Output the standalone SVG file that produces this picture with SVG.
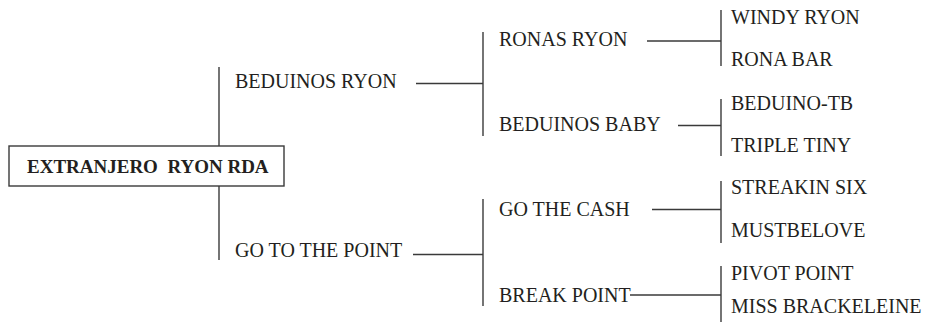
<svg xmlns="http://www.w3.org/2000/svg" width="934" height="322" viewBox="0 0 934 322">
<style>
.t{font-family:"Liberation Serif","Times New Roman",serif;font-size:20px;fill:#231f20}
.b{font-weight:bold;font-size:19px;white-space:pre}
.c line{stroke:#3a3a3a;stroke-width:1.4}
.box{fill:#fff;stroke:#3a3a3a;stroke-width:1.4}
</style>
<rect width="934" height="322" fill="#fff"/>
<g class="c" id="connectors">
<line x1="219" y1="67" x2="219" y2="146"/>
<line x1="219" y1="186" x2="219" y2="260"/>
<line x1="416" y1="83.5" x2="483" y2="83.5"/>
<line x1="483" y1="32" x2="483" y2="136"/>
<line x1="647" y1="41" x2="721" y2="41"/>
<line x1="721" y1="10" x2="721" y2="66"/>
<line x1="678" y1="125.5" x2="721" y2="125.5"/>
<line x1="721" y1="99" x2="721" y2="156"/>
<line x1="413" y1="254.5" x2="483" y2="254.5"/>
<line x1="483" y1="199" x2="483" y2="306"/>
<line x1="652" y1="209.5" x2="721" y2="209.5"/>
<line x1="721" y1="181" x2="721" y2="243"/>
<line x1="630" y1="295" x2="721" y2="295"/>
<line x1="721" y1="266" x2="721" y2="322"/>
</g>
<g id="root"><rect class="box" x="9" y="146" width="275" height="40"/><text class="t b" x="27" y="173" xml:space="preserve">EXTRANJERO  RYON RDA</text></g>
<g id="n1"><text class="t" x="235" y="88">BEDUINOS RYON</text></g>
<g id="n2"><text class="t" x="235" y="257">GO TO THE POINT</text></g>
<g id="n11"><text class="t" x="499" y="46">RONAS RYON</text></g>
<g id="n12"><text class="t" x="499" y="131">BEDUINOS BABY</text></g>
<g id="n21"><text class="t" x="499" y="216">GO THE CASH</text></g>
<g id="n22"><text class="t" x="499" y="302">BREAK POINT</text></g>
<g id="n111"><text class="t" x="731" y="24">WINDY RYON</text></g>
<g id="n112"><text class="t" x="731" y="66">RONA BAR</text></g>
<g id="n121"><text class="t" x="731" y="110">BEDUINO-TB</text></g>
<g id="n122"><text class="t" x="731" y="152">TRIPLE TINY</text></g>
<g id="n211"><text class="t" x="731" y="194">STREAKIN SIX</text></g>
<g id="n212"><text class="t" x="731" y="237">MUSTBELOVE</text></g>
<g id="n221"><text class="t" x="731" y="280">PIVOT POINT</text></g>
<g id="n222"><text class="t" x="731" y="313">MISS BRACKELEINE</text></g>
</svg>
